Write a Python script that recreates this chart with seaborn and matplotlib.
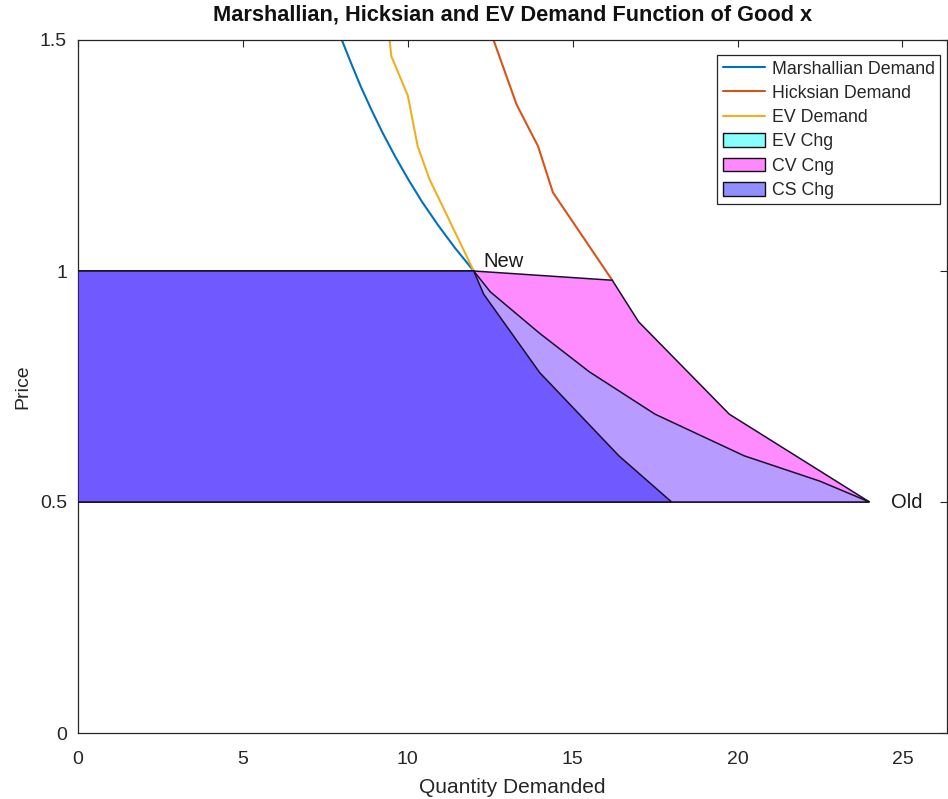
import matplotlib
matplotlib.use("Agg")
import matplotlib.pyplot as plt
from matplotlib.patches import Patch
from matplotlib.lines import Line2D
import seaborn as sns
import pandas as pd

# ---- data ----
# demand curves above the new price (price, quantity)
marsh_p = [1.5, 1.45, 1.4, 1.35, 1.3, 1.25, 1.2, 1.15, 1.1, 1.05, 1.0]
marsh_q = [8.0, 8.28, 8.57, 8.89, 9.23, 9.6, 10.0, 10.43, 10.91, 11.43, 12.0]
ev_p = [1.5, 1.465, 1.38, 1.27, 1.2, 1.0]
ev_q = [9.45, 9.5, 10.0, 10.3, 10.65, 12.0]
hick_p = [1.5, 1.36, 1.27, 1.17, 0.98]
hick_q = [12.6, 13.3, 13.95, 14.4, 16.2]

# shaded welfare-change areas (polygon outlines: quantity, price)
cv_q = [0, 0, 12.0, 16.2, 17.0, 19.75, 24.0]
cv_p = [0.5, 1.0, 1.0, 0.98, 0.89, 0.69, 0.5]
cs_q = [0, 0, 12.0, 12.5, 14.0, 15.5, 17.5, 20.2, 22.5, 24.0]
cs_p = [0.5, 1.0, 1.0, 0.955, 0.865, 0.782, 0.69, 0.6, 0.545, 0.5]
evc_q = [0, 0, 12.0, 12.3, 14.0, 16.4, 18.0]
evc_p = [0.5, 1.0, 1.0, 0.95, 0.78, 0.6, 0.5]

new_pt = (12.3, 1.0)
old_pt = (24.65, 0.5)

x_ticks = [0, 5, 10, 15, 20, 25]
y_ticks = [0, 0.5, 1, 1.5]
y_tick_labels = ["0", "0.5", "1", "1.5"]

sns.set_theme(style="white")
plt.rcParams["font.family"] = ["Liberation Sans", "DejaVu Sans"]

fig = plt.figure(figsize=(9.48, 7.99), dpi=100)
ax = fig.add_axes([78 / 948, 1 - 733 / 799, 869 / 948, 693 / 799])

c_m, c_h, c_e = "#0072BD", "#D95319", "#EDB120"

df_m = pd.DataFrame({"q": marsh_q, "p": marsh_p})
df_h = pd.DataFrame({"q": hick_q, "p": hick_p})
df_e = pd.DataFrame({"q": ev_q, "p": ev_p})
sns.lineplot(data=df_m, x="q", y="p", sort=False, estimator=None, color=c_m, lw=1.5, ax=ax)
sns.lineplot(data=df_h, x="q", y="p", sort=False, estimator=None, color=c_h, lw=1.5, ax=ax)
sns.lineplot(data=df_e, x="q", y="p", sort=False, estimator=None, color=c_e, lw=1.5, ax=ax)

ax.fill(cv_q, cv_p, facecolor="#FF8CFF", edgecolor="#1a0f2e", lw=1.1, zorder=3)
ax.fill(cs_q, cs_p, facecolor="#B89BFF", edgecolor="#1a0f2e", lw=1.1, zorder=4)
ax.fill(evc_q, evc_p, facecolor="#705AFF", edgecolor="#1a0f2e", lw=1.1, zorder=5)

ax.text(new_pt[0], new_pt[1] + 0.0, "New", fontsize=14.5, ha="left", va="bottom", color="#1a1a1a", zorder=6)
ax.text(old_pt[0], old_pt[1], "Old", fontsize=14.5, ha="left", va="center", color="#1a1a1a", zorder=6)

ax.set_xlim(0, 26.35)
ax.set_ylim(0, 1.5)
ax.set_xticks(x_ticks)
ax.set_xticklabels([str(t) for t in x_ticks])
ax.set_yticks(y_ticks)
ax.set_yticklabels(y_tick_labels)
ax.tick_params(direction="in", top=True, right=True, length=5, width=0.8,
               labelsize=14, colors="#262626")
ax.tick_params(axis="x", pad=13)
ax.tick_params(axis="y", pad=8)
for s in ax.spines.values():
    s.set_color("#262626")
    s.set_linewidth(0.9)

ax.set_xlabel("Quantity Demanded", fontsize=15, color="#262626", labelpad=7)
ax.set_ylabel("Price", fontsize=14, color="#262626", labelpad=6)
ax.set_title("Marshallian, Hicksian and EV Demand Function of Good x",
             fontsize=15.7, fontweight="bold", color="#111111", pad=14)

handles = [
    Line2D([], [], color=c_m, lw=1.5),
    Line2D([], [], color=c_h, lw=1.5),
    Line2D([], [], color=c_e, lw=1.5),
    Patch(facecolor="#88FFFF", edgecolor="#111111", lw=1.0),
    Patch(facecolor="#FF88FF", edgecolor="#111111", lw=1.0),
    Patch(facecolor="#8F8FFF", edgecolor="#111111", lw=1.0),
]
labels = ["Marshallian Demand", "Hicksian Demand", "EV Demand", "EV Chg", "CV Cng", "CS Chg"]
leg = ax.legend(handles, labels, loc="upper right", bbox_to_anchor=(0.992, 0.978),
                borderaxespad=0, fontsize=12.8, frameon=True, fancybox=False,
                edgecolor="#262626", framealpha=1, handlelength=2.4,
                handleheight=0.8, labelspacing=0.41, borderpad=0.3, handletextpad=0.35)
leg.get_frame().set_linewidth(0.9)
leg.set_zorder(10)

fig.savefig("out.png", dpi=100)
